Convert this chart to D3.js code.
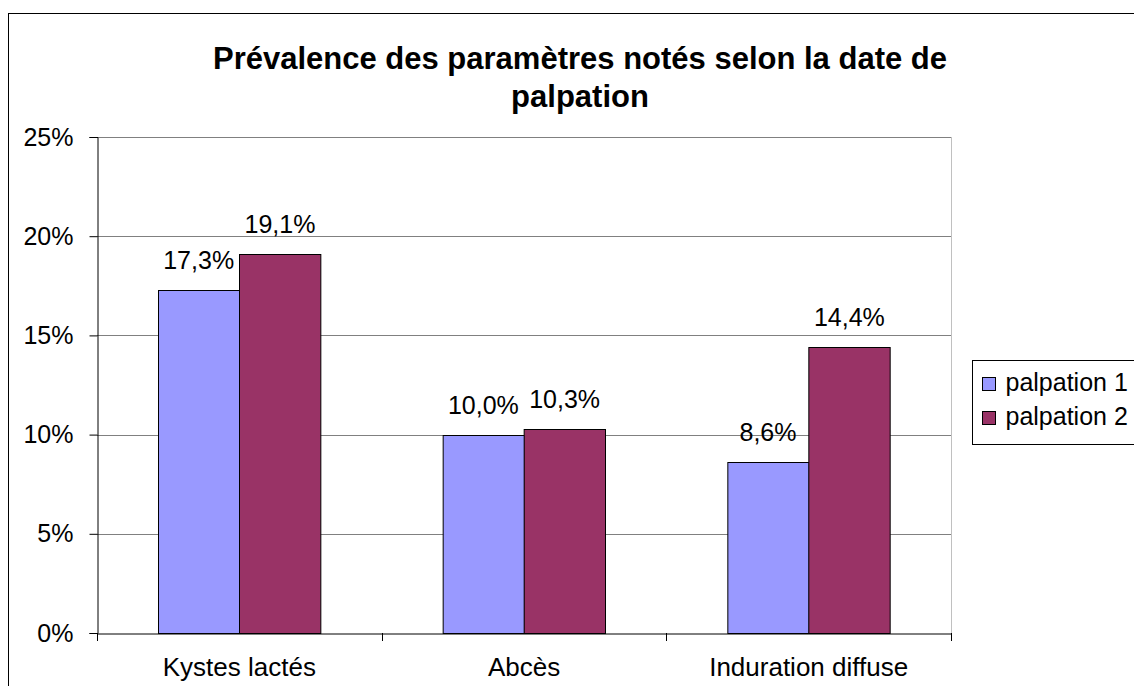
<!DOCTYPE html>
<html>
<head>
<meta charset="utf-8">
<script src="https://cdn.jsdelivr.net/npm/d3@7"></script>
<style>
  body { margin: 0; background: #fff; }
  text { font-family: "Liberation Sans", Arial, sans-serif; fill: #000; }
</style>
</head>
<body>
<div id="chart"></div>
<script>
// data
let categories = ["Kystes lactés", "Abcès", "Induration diffuse"];
let seriesNames = ["palpation 1", "palpation 2"];
let palpation1 = [17.3, 10.0, 8.6];
let palpation2 = [19.1, 10.3, 14.4];
let yTicks = [0, 5, 10, 15, 20, 25];
let colors = ["#9999ff", "#993366"];

let svgWidth = 1134;
let svgHeight = 686;

let margin = { top: 137, left: 97, right: 183, bottom: 53 };
let width = svgWidth - margin.left - margin.right;
let height = svgHeight - margin.top - margin.bottom;

let fontSize = "25px";

let svg = d3.select("#chart")
  .append("svg")
  .attr("width", svgWidth)
  .attr("height", svgHeight);

// outer chart border (runs off the picture on right and bottom)
svg.append("rect")
  .attr("x", 8.5)
  .attr("y", 13.5)
  .attr("width", 1140)
  .attr("height", 700)
  .attr("fill", "none")
  .attr("stroke", "#000")
  .attr("stroke-width", 1);

// title
let title = svg.append("text")
  .attr("text-anchor", "middle")
  .style("font-size", "31px")
  .style("font-weight", "bold");
title.append("tspan").attr("x", 580).attr("y", 69).text("Prévalence des paramètres notés selon la date de");
title.append("tspan").attr("x", 580).attr("y", 107).text("palpation");

let chartGroup = svg.append("g")
  .attr("transform", `translate(${margin.left}, ${margin.top})`);

let x0 = d3.scaleBand()
  .domain(categories)
  .range([0, width]);

// gap width 150% like the spreadsheet default
let x1 = d3.scaleBand()
  .domain(seriesNames)
  .range([0, x0.bandwidth() * 2 / 3.5]);

let yScale = d3.scaleLinear()
  .domain([0, 25])
  .range([height, 0]);

// gridlines
chartGroup.append("g")
  .selectAll("line")
  .data(yTicks.filter(d => d > 0))
  .enter()
  .append("line")
  .attr("x1", 0)
  .attr("x2", width)
  .attr("y1", d => Math.round(yScale(d)) + 0.5)
  .attr("y2", d => Math.round(yScale(d)) + 0.5)
  .attr("stroke", "#808080");

// right edge of plot area
chartGroup.append("line")
  .attr("x1", width + 0.5).attr("x2", width + 0.5)
  .attr("y1", 0).attr("y2", height)
  .attr("stroke", "#c0c0c0");

// bars
let table = categories.map((c, i) => ({ cat: c, values: [palpation1[i], palpation2[i]] }));

let groups = chartGroup.selectAll(".grp")
  .data(table)
  .enter()
  .append("g")
  .attr("transform", d => `translate(${x0(d.cat) + (x0.bandwidth() - x1.range()[1]) / 2}, 0)`);

groups.selectAll("rect")
  .data(d => d.values.map((v, j) => ({ name: seriesNames[j], v: v, j: j })))
  .enter()
  .append("rect")
  .attr("x", d => Math.round(x1(d.name)) + 0.5)
  .attr("y", d => Math.round(yScale(d.v)) + 0.5)
  .attr("width", x1.bandwidth())
  .attr("height", d => Math.round(height) - Math.round(yScale(d.v)))
  .attr("fill", d => colors[d.j])
  .attr("stroke", "#000")
  .attr("stroke-width", 1);

groups.selectAll(".lbl")
  .data(d => d.values.map((v, j) => ({ name: seriesNames[j], v: v })))
  .enter()
  .append("text")
  .attr("x", d => x1(d.name) + x1.bandwidth() / 2)
  .attr("y", d => yScale(d.v) - 21)
  .attr("text-anchor", "middle")
  .style("font-size", fontSize)
  .text(d => d.v.toFixed(1).replace(".", ",") + "%");

// y axis
let leftAxis = d3.axisLeft(yScale)
  .tickValues(yTicks)
  .tickSize(8)
  .tickPadding(16)
  .tickFormat(d => d + "%");

let yAxis = chartGroup.append("g")
  .attr("transform", "translate(0.5, 0)")
  .call(leftAxis);
yAxis.select(".domain").attr("stroke", "#000");
yAxis.selectAll(".tick line").attr("stroke", "#000");
yAxis.selectAll("text")
  .style("font-size", fontSize)
  .style("font-family", "Liberation Sans, Arial, sans-serif")
  .attr("fill", "#000");

// x axis
let bottomAxis = d3.axisBottom(x0)
  .tickSize(0)
  .tickPadding(24);

let xAxis = chartGroup.append("g")
  .attr("transform", `translate(0, ${Math.round(height) + 0.5})`)
  .call(bottomAxis);
xAxis.select(".domain").attr("stroke", "#000");
xAxis.selectAll("text")
  .style("font-size", "26px")
  .style("font-family", "Liberation Sans, Arial, sans-serif")
  .attr("fill", "#000");

// category separator ticks
chartGroup.append("g")
  .selectAll("line")
  .data(d3.range(categories.length + 1))
  .enter()
  .append("line")
  .attr("x1", i => Math.round(i * x0.step()) + 0.5)
  .attr("x2", i => Math.round(i * x0.step()) + 0.5)
  .attr("y1", height)
  .attr("y2", height + 8)
  .attr("stroke", "#000");

// legend
let legend = svg.append("g")
  .attr("transform", "translate(972.5, 360.5)");

legend.append("rect")
  .attr("width", 200)
  .attr("height", 84)
  .attr("fill", "#fff")
  .attr("stroke", "#000");

seriesNames.forEach((name, i) => {
  legend.append("rect")
    .attr("x", 10)
    .attr("y", 17 + i * 34)
    .attr("width", 13)
    .attr("height", 13)
    .attr("fill", colors[i])
    .attr("stroke", "#000");
  legend.append("text")
    .attr("x", 33)
    .attr("y", 30 + i * 34)
    .style("font-size", fontSize)
    .text(name);
});
</script>
</body>
</html>
